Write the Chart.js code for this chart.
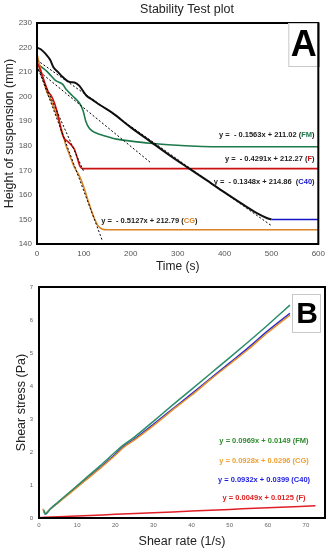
<!DOCTYPE html>
<html>
<head>
<meta charset="utf-8">
<script src="https://cdn.jsdelivr.net/npm/chart.js@4.4.1/dist/chart.umd.min.js"></script>
<style>
  html, body { margin: 0; padding: 0; background: #fff; }
  #wrapA { position: absolute; left: 0; top: 0; width: 330px; height: 275px; }
  #wrapB { position: absolute; left: 0; top: 275px; width: 330px; height: 275px; }
</style>
</head>
<body>
<div id="wrapA"><canvas id="chartA" width="330" height="275"></canvas></div>
<div id="wrapB"><canvas id="chartB" width="330" height="275"></canvas></div>
<script>
// ---- panel A: stability test (height vs time) ----
const timeC40   = [0, 8, 18, 28, 35, 45, 55, 70, 80, 90, 105, 120, 135, 160, 200, 240, 280, 320, 360, 400, 440, 470, 490, 500];
const heightC40 = [220, 219.3, 217.5, 215, 212, 210, 208, 206, 205.8, 204.5, 200.5, 198.5, 196.5, 193.5, 187.5, 182, 176.5, 171.3, 166.2, 161, 156, 152.5, 150.6, 150];
const timeC40Flat   = [500, 600];
const heightC40Flat = [150, 150];

const timeFM   = [0, 10, 20, 30, 40, 55, 62, 75, 90, 98, 104, 112, 125, 145, 170, 200, 240, 290, 340, 380, 600];
const heightFM = [213.5, 212, 210.5, 208.5, 206.5, 205, 203, 200.5, 197.5, 194.5, 190, 187, 185.3, 184, 182.7, 181.9, 181, 180.3, 179.8, 179.6, 179.6];

const timeF   = [0, 8, 16, 24, 30, 38, 46, 52, 58, 64, 72, 80, 86, 92, 98, 600];
const heightF = [214, 210.5, 206, 202, 200.5, 197, 191.5, 186, 183, 182, 180.5, 178.5, 175, 171.5, 170.7, 170.7];

const timeCG   = [0, 6, 14, 22, 30, 38, 46, 54, 62, 70, 78, 85, 92, 100, 110, 120, 130, 140, 150, 600];
const heightCG = [217.5, 212.5, 206.5, 201.5, 198.5, 194.5, 190.5, 185.5, 180, 176, 172, 169.5, 167, 163, 157, 151.5, 147.5, 146, 145.8, 145.8];

// dotted linear fits (start/end)
const fitTimeFM = [0, 241],  fitHeightFM = [211.02, 173.35];
const fitTimeF  = [0, 100],  fitHeightF  = [212.27, 169.36];
const fitTimeC40 = [0, 500], fitHeightC40 = [214.86, 147.46];
const fitTimeCG = [0, 140],  fitHeightCG = [212.79, 141.01];

const eqA = ['y =  - 0.1563x + 211.02 ', 'y =  - 0.4291x + 212.27 ', 'y =  - 0.1348x + 214.86  ', 'y =  - 0.5127x + 212.79 '];
const namesA = ['FM', 'F', 'C40', 'CG'];

const ticksTime = [0, 100, 200, 300, 400, 500, 600];
const ticksHeight = [140, 150, 160, 170, 180, 190, 200, 210, 220, 230];

// ---- panel B: rheology (shear stress vs shear rate) ----
const rateFM   = [1.3, 1.6, 3, 5, 8, 12, 16, 20, 22, 25, 30, 35, 40, 45, 50, 55, 60, 65.8];
const stressFM = [0.24, 0.12, 0.28, 0.48, 0.78, 1.18, 1.58, 2.0, 2.2, 2.45, 2.93, 3.42, 3.9, 4.38, 4.86, 5.35, 5.85, 6.45];
const rateCG   = [1.0, 1.5, 3, 5, 8, 12, 16, 20, 22, 25, 30, 35, 40, 45, 50, 55, 60, 65.8];
const stressCG = [0.28, 0.14, 0.27, 0.46, 0.74, 1.12, 1.5, 1.9, 2.12, 2.36, 2.8, 3.27, 3.72, 4.2, 4.66, 5.12, 5.62, 6.15];
const rateC40   = [1.3, 1.6, 3, 5, 8, 12, 16, 20, 22, 25, 30, 35, 40, 45, 50, 55, 60, 65.8];
const stressC40 = [0.2, 0.12, 0.28, 0.47, 0.76, 1.14, 1.52, 1.93, 2.15, 2.39, 2.84, 3.3, 3.76, 4.23, 4.7, 5.17, 5.67, 6.2];
const rateF   = [0, 1.5, 10, 20, 30, 40, 50, 60, 72.5];
const stressF = [0.01, 0.02, 0.06, 0.11, 0.16, 0.21, 0.26, 0.31, 0.37];

const eqB = ['y = 0.0969x + 0.0149 (FM)', 'y = 0.0928x + 0.0296 (CG)', 'y = 0.0932x + 0.0399 (C40)', 'y = 0.0049x + 0.0125 (F)'];

const ticksRate = [0, 10, 20, 30, 40, 50, 60, 70];
const ticksStress = [0, 1, 2, 3, 4, 5, 6, 7];

function pts(xs, ys) { return xs.map((v, i) => ({ x: v, y: ys[i] })); }

const FONT = "'Liberation Sans', Arial, sans-serif";

// draws frame, equation labels, letter box and optional title
const decor = {
  id: 'decor',
  afterDatasetsDraw(chart, args, opts) {
    const { ctx, chartArea: a, scales: { x, y } } = chart;
    ctx.save();
    ctx.strokeStyle = '#000';
    ctx.lineWidth = 2;
    ctx.strokeRect(a.left, a.top, a.width, a.height);

    ctx.font = opts.labelFont;
    ctx.textBaseline = 'middle';
    ctx.textAlign = 'left';
    opts.labels.forEach(l => {
      let px = x.getPixelForValue(l.x);
      const py = y.getPixelForValue(l.y);
      const total = l.parts.reduce((s, p) => s + ctx.measureText(p.text).width, 0);
      if (l.align === 'right') px -= total;
      else if (l.align === 'center') px -= total / 2;
      l.parts.forEach(p => {
        ctx.fillStyle = p.color;
        ctx.fillText(p.text, px, py);
        px += ctx.measureText(p.text).width;
      });
    });

    const b = opts.box;
    const bx = a.right - b.dx - b.w, by = a.top + b.dy;
    ctx.fillStyle = '#fff';
    ctx.fillRect(bx, by, b.w, b.h);
    ctx.strokeStyle = '#c8c8c8';
    ctx.lineWidth = 1;
    ctx.strokeRect(bx + 0.5, by + 0.5, b.w - 1, b.h - 1);
    ctx.strokeStyle = '#000';
    ctx.lineWidth = 2;
    ctx.beginPath();
    ctx.moveTo(a.right, a.top); ctx.lineTo(a.right, a.top + b.h + b.dy);
    ctx.stroke();
    ctx.fillStyle = '#000';
    ctx.font = b.font;
    ctx.textAlign = 'center';
    ctx.textBaseline = 'middle';
    ctx.fillText(b.letter, bx + b.w / 2 + 0.5, by + b.h / 2 + 1);

    if (opts.title) {
      ctx.font = '12.5px ' + FONT;
      ctx.fillStyle = '#222';
      ctx.fillText(opts.title.text, opts.title.x, opts.title.y);
    }
    ctx.restore();
  }
};

function lineDs(data, color, width, dash) {
  return {
    data: data, borderColor: color, backgroundColor: color, borderWidth: width,
    borderDash: dash || [], pointRadius: 0, cubicInterpolationMode: 'monotone', fill: false
  };
}

const dark = '#222';
const colFM = '#1d7a4a', colF = '#cc1111', colC40 = '#1515c8', colCG = '#d98325';

new Chart(document.getElementById('chartA'), {
  type: 'line',
  data: {
    datasets: [
      lineDs(pts(fitTimeC40, fitHeightC40), '#000', 1, [2, 2]),
      lineDs(pts(fitTimeFM, fitHeightFM), '#000', 1, [2, 2]),
      lineDs(pts(fitTimeF, fitHeightF), '#000', 1, [2, 2]),
      lineDs(pts(fitTimeCG, fitHeightCG), '#000', 1, [2, 2]),
      lineDs(pts(timeC40, heightC40), '#111', 2),
      lineDs(pts(timeC40Flat, heightC40Flat), colC40, 1.6),
      lineDs(pts(timeF, heightF), colF, 1.6),
      lineDs(pts(timeCG, heightCG), colCG, 1.6),
      lineDs(pts(timeFM, heightFM), colFM, 1.6)
    ]
  },
  options: {
    responsive: false,
    animation: false,
    devicePixelRatio: 1,
    layout: { padding: { top: 23, right: 8, left: 0, bottom: 0 } },
    plugins: {
      legend: { display: false },
      tooltip: { enabled: false },
      decor: {
        labelFont: 'bold 7.5px ' + FONT,
        title: { text: 'Stability Test plot', x: 187, y: 9.5 },
        box: { letter: 'A', w: 30, h: 44, dx: 0, dy: 0, font: 'bold 36px ' + FONT },
        labels: [
          { x: 592, y: 184.4, align: 'right', parts: [{ text: eqA[0] + '(', color: dark }, { text: namesA[0], color: colFM }, { text: ')', color: dark }] },
          { x: 592, y: 174.6, align: 'right', parts: [{ text: eqA[1] + '(', color: dark }, { text: namesA[1], color: colF }, { text: ')', color: dark }] },
          { x: 592, y: 165.2, align: 'right', parts: [{ text: eqA[2] + '(', color: dark }, { text: namesA[2], color: colC40 }, { text: ')', color: dark }] },
          { x: 137, y: 149.4, align: 'left', parts: [{ text: eqA[3] + '(', color: dark }, { text: namesA[3], color: colCG }, { text: ')', color: dark }] }
        ]
      }
    },
    scales: {
      x: {
        type: 'linear', min: 0, max: 600,
        afterBuildTicks: s => { s.ticks = ticksTime.map(v => ({ value: v })); },
        afterFit: s => { s.height = 31; },
        grid: { display: false, drawTicks: false },
        border: { display: false },
        ticks: { padding: 5, color: '#555', font: { size: 8, family: FONT } },
        title: { display: true, text: 'Time (s)', color: '#222', font: { size: 12, family: FONT }, padding: { top: 0, bottom: 1 } }
      },
      y: {
        type: 'linear', min: 140, max: 230,
        afterBuildTicks: s => { s.ticks = ticksHeight.map(v => ({ value: v })); },
        afterFit: s => { s.width = 37; },
        grid: { display: false, drawTicks: false },
        border: { display: false },
        ticks: { padding: 5, color: '#555', font: { size: 8, family: FONT } },
        title: { display: true, text: 'Height of suspension (mm)', color: '#222', font: { size: 12.5, family: FONT }, padding: { top: 2, bottom: 0 } }
      }
    }
  },
  plugins: [decor]
});

const bFM = '#2a8c6a', bCG = '#e8902a', bC40 = '#2a2ad0', bF = '#e01f26';

new Chart(document.getElementById('chartB'), {
  type: 'line',
  data: {
    datasets: [
      lineDs(pts(rateFM, stressFM), bFM, 1.5),
      lineDs(pts(rateCG, stressCG), bCG, 1.5),
      lineDs(pts(rateC40, stressC40), bC40, 1.5),
      lineDs(pts(rateF, stressF), bF, 1.5)
    ]
  },
  options: {
    responsive: false,
    animation: false,
    devicePixelRatio: 1,
    layout: { padding: { top: 12, right: 5, left: 0, bottom: 0 } },
    plugins: {
      legend: { display: false },
      tooltip: { enabled: false },
      decor: {
        labelFont: 'bold 7.5px ' + FONT,
        box: { letter: 'B', w: 29, h: 39, dx: 4, dy: 7, font: 'bold 30px ' + FONT },
        labels: [
          { x: 59, y: 2.33, align: 'center', parts: [{ text: eqB[0], color: '#2e8b2e' }] },
          { x: 59, y: 1.73, align: 'center', parts: [{ text: eqB[1], color: '#f0a030' }] },
          { x: 59, y: 1.15, align: 'center', parts: [{ text: eqB[2], color: '#1a1ae0' }] },
          { x: 59, y: 0.6, align: 'center', parts: [{ text: eqB[3], color: '#e02020' }] }
        ]
      }
    },
    scales: {
      x: {
        type: 'linear', min: 0, max: 75,
        afterBuildTicks: s => { s.ticks = ticksRate.map(v => ({ value: v })); },
        afterFit: s => { s.height = 32; },
        grid: { display: false, drawTicks: false },
        border: { display: false },
        ticks: { padding: 4, color: '#666', font: { size: 6, family: FONT } },
        title: { display: true, text: 'Shear rate (1/s)', color: '#222', font: { size: 12.5, family: FONT }, padding: { top: 0, bottom: 1 } }
      },
      y: {
        type: 'linear', min: 0, max: 7,
        afterBuildTicks: s => { s.ticks = ticksStress.map(v => ({ value: v })); },
        afterFit: s => { s.width = 39; },
        grid: { display: false, drawTicks: false },
        border: { display: false },
        ticks: { padding: 6, color: '#666', font: { size: 6, family: FONT } },
        title: { display: true, text: 'Shear stress (Pa)', color: '#222', font: { size: 12.5, family: FONT }, padding: { top: 14, bottom: 0 } }
      }
    }
  },
  plugins: [decor]
});
</script>
</body>
</html>
